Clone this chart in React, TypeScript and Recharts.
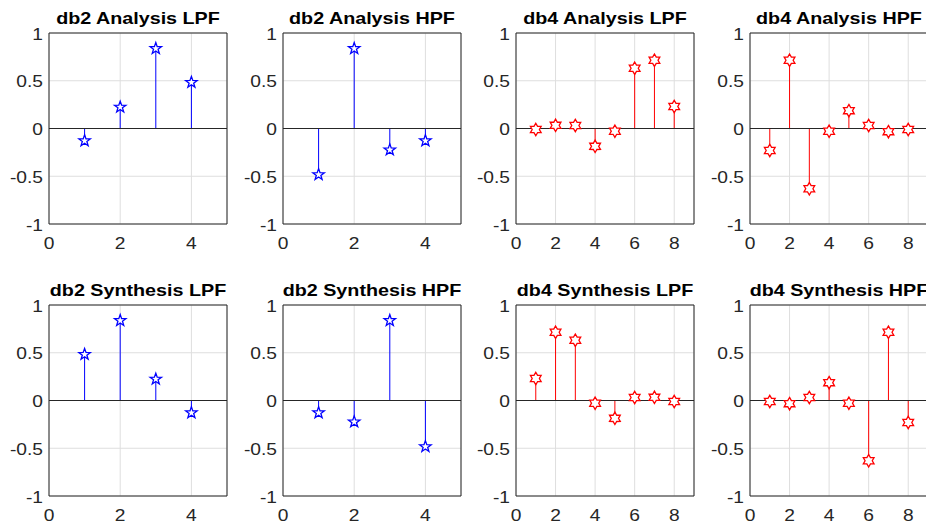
import React from "react";
import {
  CartesianGrid,
  ReferenceArea,
  ReferenceLine,
  Scatter,
  ScatterChart,
  XAxis,
  YAxis,
} from "recharts";

// filter coefficients
const db2AnalysisLow = [-0.129, 0.224, 0.837, 0.483];
const db2AnalysisHigh = [-0.483, 0.837, -0.224, -0.129];
const db2SynthesisLow = [0.483, 0.837, 0.224, -0.129];
const db2SynthesisHigh = [-0.129, -0.224, 0.837, -0.483];
const db4AnalysisLow = [-0.011, 0.033, 0.031, -0.187, -0.028, 0.631, 0.715, 0.23];
const db4AnalysisHigh = [-0.23, 0.715, -0.631, -0.028, 0.187, 0.031, -0.033, -0.011];
const db4SynthesisLow = [0.23, 0.715, 0.631, -0.028, -0.187, 0.031, 0.033, -0.011];
const db4SynthesisHigh = [-0.011, -0.033, 0.031, 0.187, -0.028, -0.631, 0.715, -0.23];

const db2XTicks = [0, 2, 4];
const db4XTicks = [0, 2, 4, 6, 8];
const yTicks = [-1, -0.5, 0, 0.5, 1];

const panels = [
  { title: "db2 Analysis LPF", values: db2AnalysisLow, wavelet: "db2" },
  { title: "db2 Analysis HPF", values: db2AnalysisHigh, wavelet: "db2" },
  { title: "db4 Analysis LPF", values: db4AnalysisLow, wavelet: "db4" },
  { title: "db4 Analysis HPF", values: db4AnalysisHigh, wavelet: "db4" },
  { title: "db2 Synthesis LPF", values: db2SynthesisLow, wavelet: "db2" },
  { title: "db2 Synthesis HPF", values: db2SynthesisHigh, wavelet: "db2" },
  { title: "db4 Synthesis LPF", values: db4SynthesisLow, wavelet: "db4" },
  { title: "db4 Synthesis HPF", values: db4SynthesisHigh, wavelet: "db4" },
];

const PLOT_W = 178;
const PLOT_H = 191;
const plotLefts = [49.3, 283, 516.3, 750];
const plotTops = [33.3, 304.6];
const AXIS_W = 50;
const TOP_PAD = 10;
const FONT = "'Liberation Sans', Arial, Helvetica, sans-serif";
const TEXT = "#262626";

function starPath(cx: number, cy: number, n: number, outer: number, inner: number) {
  const pts: string[] = [];
  for (let k = 0; k < n * 2; k++) {
    const a = -Math.PI / 2 + (k * Math.PI) / n;
    const r = k % 2 === 0 ? outer : inner;
    pts.push(`${(cx + r * Math.cos(a)).toFixed(2)},${(cy + r * Math.sin(a)).toFixed(2)}`);
  }
  return `M${pts.join("L")}Z`;
}

const YTick = (props: any) => {
  const { x, y, payload } = props;
  return (
    <g transform={`translate(${x} ${y}) scale(1.2 1)`}>
      <text x={0} y={6.5} textAnchor="end" fontSize={16} fontFamily={FONT} fill={TEXT}>
        {payload.value}
      </text>
    </g>
  );
};

const XTick = (props: any) => {
  const { x, y, payload } = props;
  return (
    <g transform={`translate(${x} ${y}) scale(1.2 1)`}>
      <text x={0} y={25} textAnchor="middle" fontSize={16} fontFamily={FONT} fill={TEXT}>
        {payload.value}
      </text>
    </g>
  );
};

function StemPanel({ title, values, wavelet, left, top }: any) {
  const isDb2 = wavelet === "db2";
  const color = isDb2 ? "#0000ff" : "#ff0000";
  const xMax = isDb2 ? 5 : 9;
  const xTicks = isDb2 ? db2XTicks : db4XTicks;
  const data = values.map((v: number, i: number) => ({ x: i + 1, y: v }));

  const marker = (p: any) => {
    const d = isDb2
      ? starPath(p.cx, p.cy, 5, 6, 2.4)
      : starPath(p.cx, p.cy, 6, 6.2, 3.6);
    return <path d={d} fill="#ffffff" stroke={color} strokeWidth={1.3} strokeLinejoin="miter" />;
  };

  return (
    <>
      <div
        style={{
          position: "absolute",
          left,
          top: top - 23,
          width: PLOT_W,
          textAlign: "center",
          fontFamily: FONT,
          fontWeight: "bold",
          fontSize: 17,
          lineHeight: "17px",
          whiteSpace: "nowrap",
          color: "#000",
          transform: "scaleX(1.16)",
          transformOrigin: "center",
        }}
      >
        {title}
      </div>
      <div style={{ position: "absolute", left: left - AXIS_W, top: top - TOP_PAD }}>
        <ScatterChart
          width={AXIS_W + PLOT_W + 4}
          height={TOP_PAD + PLOT_H + 35}
          margin={{ top: TOP_PAD, right: 4, bottom: 0, left: 0 }}
        >
          <CartesianGrid stroke="#dedede" strokeWidth={1} />
          <XAxis
            type="number"
            dataKey="x"
            domain={[0, xMax]}
            ticks={xTicks}
            allowDataOverflow
            axisLine={false}
            tickLine={false}
            tickSize={0}
            tickMargin={0}
            height={35}
            tick={<XTick />}
            interval={0}
          />
          <YAxis
            type="number"
            dataKey="y"
            domain={[-1, 1]}
            ticks={yTicks}
            allowDataOverflow
            axisLine={false}
            tickLine={false}
            tickSize={0}
            tickMargin={6}
            width={AXIS_W}
            tick={<YTick />}
            interval={0}
          />
          {data.map((pt: any) => (
            <ReferenceLine
              key={`stem-${pt.x}`}
              segment={[
                { x: pt.x, y: 0 },
                { x: pt.x, y: pt.y },
              ]}
              stroke={color}
              strokeWidth={1}
            />
          ))}
          <ReferenceLine y={0} stroke={TEXT} strokeWidth={1} />
          <ReferenceArea
            x1={0}
            x2={xMax}
            y1={-1}
            y2={1}
            fill="none"
            stroke={TEXT}
            strokeWidth={1}
          />
          <Scatter data={data} shape={marker} isAnimationActive={false} />
        </ScatterChart>
      </div>
    </>
  );
}

export default function App() {
  return (
    <div
      style={{
        position: "absolute",
        left: 0,
        top: 0,
        width: 926,
        height: 528,
        overflow: "hidden",
        background: "#ffffff",
      }}
    >
      {panels.map((p, i) => (
        <StemPanel
          key={p.title}
          {...p}
          left={plotLefts[i % 4]}
          top={plotTops[Math.floor(i / 4)]}
        />
      ))}
    </div>
  );
}
